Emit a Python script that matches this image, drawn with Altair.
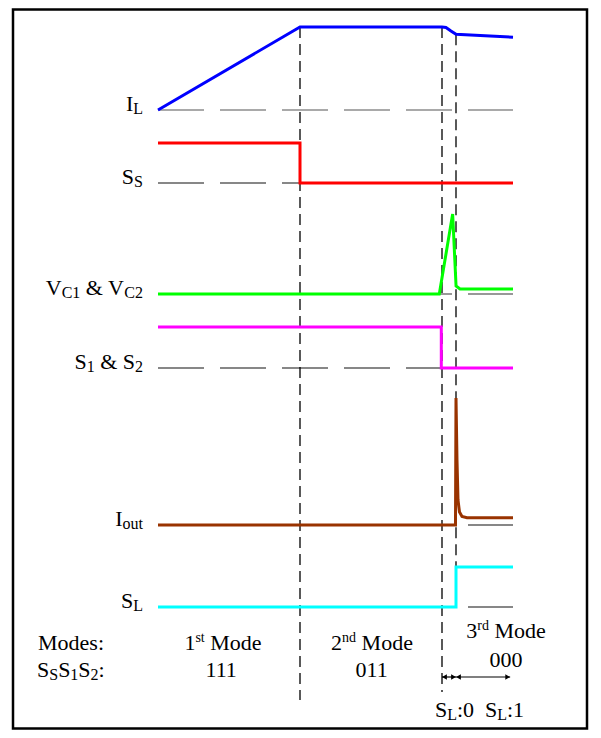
import altair as alt
import pandas as pd

# ---------------- data (time in "mode units": mode 1 = 0..1, mode 2 = 1..2, mode 3 from ~2.1 to 2.5)
series = ["I_L", "S_S", "V_C", "S_12", "I_out", "S_L"]
colors = ["#0000FF", "#FF0000", "#00FF00", "#FF00FF", "#993300", "#00FFFF"]
baseline_colors = ["#555555", "#111111", "#333333", "#111111", "#111111", "#111111"]

il_t = [0, 1, 2, 2.028, 2.063, 2.099, 2.338, 2.5]
il_v = [0, 1, 1, 0.994, 0.952, 0.912, 0.892, 0.876]
ss_t = [0, 1, 1, 2.5]
ss_v = [1, 1, 0, 0]
vc_t = [0, 1.981, 2.075, 2.099, 2.127, 2.5]
vc_v = [0, 0, 1, 0.10, 0.0625, 0.0625]
s12_t = [0, 1.995, 1.995, 2.5]
s12_v = [1, 1, 0, 0]
io_t = [0, 2.095, 2.0986, 2.1056, 2.1127, 2.1232, 2.1408, 2.1761, 2.5]
io_v = [0, 0, 1, 0.512, 0.197, 0.102, 0.067, 0.057, 0.057]
sl_t = [0, 2.0986, 2.0986, 2.5]
sl_v = [0, 0, 1, 1]

mode_edges = [1.0, 2.0, 2.0986]
t_end = 2.5
arrow_end = 2.48

# ---------------- layout
ORIGIN = 8
W_PX, H_PX = 585, 722
X0_PX, UNIT_PX = 158, 142
XDOM = [(ORIGIN - X0_PX) / UNIT_PX, (ORIGIN + W_PX - X0_PX) / UNIT_PX]
YDOM = [ORIGIN, ORIGIN + H_PX]

row_base = {"I_L": 110, "S_S": 183, "V_C": 294, "S_12": 368, "I_out": 525, "S_L": 607}
row_amp = {"I_L": 83, "S_S": 40, "V_C": 80, "S_12": 41, "I_out": 127, "S_L": 40}
vert_bottom = {1.0: 700, 2.0: 692}


def px2t(px):
    return (px - X0_PX) / UNIT_PX


def X(field="t"):
    return alt.X(f"{field}:Q", scale=alt.Scale(domain=XDOM, nice=False, zero=False), axis=None)


def Y(field="y"):
    return alt.Y(f"{field}:Q", scale=alt.Scale(domain=YDOM, reverse=True, nice=False, zero=False), axis=None)


def ypos(name, v):
    return row_base[name] - row_amp[name] * v


# ---------------- signals
sig_src = {"I_L": (il_t, il_v), "S_S": (ss_t, ss_v), "V_C": (vc_t, vc_v),
           "S_12": (s12_t, s12_v), "I_out": (io_t, io_v), "S_L": (sl_t, sl_v)}
rows = []
for name in series:
    ts, vs = sig_src[name]
    for i, (t, v) in enumerate(zip(ts, vs)):
        rows.append({"series": name, "i": i, "t": t, "y": ypos(name, v)})
sig_df = pd.DataFrame(rows)

signals = alt.Chart(sig_df).mark_line(strokeWidth=3, strokeJoin="miter").encode(
    x=X(), y=Y(),
    color=alt.Color("series:N", scale=alt.Scale(domain=series, range=colors), legend=None),
    order=alt.Order("i:Q"),
)

# ---------------- dashed baselines
base_df = pd.DataFrame([{"t": 0, "t2": t_end, "y": row_base[n], "c": c}
                        for n, c in zip(series, baseline_colors)])
baselines = alt.Chart(base_df).mark_rule(strokeDash=[46, 16], strokeWidth=1.2).encode(
    x=X(), x2=alt.X2("t2:Q"), y=Y(), color=alt.Color("c:N", scale=None)
)

# ---------------- vertical dashed mode boundaries
def il_at(t):
    for k in range(len(il_t) - 1):
        if il_t[k] <= t <= il_t[k + 1]:
            a, b = il_t[k], il_t[k + 1]
            f = 0 if b == a else (t - a) / (b - a)
            return il_v[k] + f * (il_v[k + 1] - il_v[k])
    return il_v[-1]

vrows = []
for t in mode_edges:
    top = ypos("I_L", il_at(t))
    bottom = vert_bottom.get(t, ypos("S_L", 1))
    vrows.append({"t": t, "y": top, "y2": bottom})
vert_df = pd.DataFrame(vrows)
verticals = alt.Chart(vert_df).mark_rule(strokeDash=[11, 6], strokeWidth=1.3, color="black").encode(
    x=X(), y=Y(), y2=alt.Y2("y2:Q")
)

# ---------------- frame
frame_df = pd.DataFrame([{"t": px2t(13), "t2": px2t(587), "y": 9.5, "y2": 728.5}])
frame = alt.Chart(frame_df).mark_rect(fillOpacity=0, stroke="black", strokeWidth=2.5).encode(
    x=X(), x2=alt.X2("t2:Q"), y=Y(), y2=alt.Y2("y2:Q")
)

# ---------------- arrows (S_L:0 / S_L:1 intervals)
ARROW_Y = 677
arr_df = pd.DataFrame([
    {"t": mode_edges[1], "t2": mode_edges[2], "y": ARROW_Y},
    {"t": mode_edges[2], "t2": arrow_end, "y": ARROW_Y},
])
arrows = alt.Chart(arr_df).mark_rule(strokeWidth=1.2, color="black").encode(
    x=X(), x2=alt.X2("t2:Q"), y=Y()
)
head_off = 2.5 / UNIT_PX
heads_df = pd.DataFrame([
    {"t": mode_edges[1] + head_off, "y": ARROW_Y, "shape": "triangle-left"},
    {"t": mode_edges[2] - head_off, "y": ARROW_Y, "shape": "triangle-right"},
    {"t": mode_edges[2] + head_off, "y": ARROW_Y, "shape": "triangle-left"},
    {"t": arrow_end - head_off, "y": ARROW_Y, "shape": "triangle-right"},
])
heads = alt.Chart(heads_df).mark_point(filled=True, size=30, color="black", opacity=1).encode(
    x=X(), y=Y(), shape=alt.Shape("shape:N", scale=None)
)

# ---------------- text
CW = {' ': 250, '&': 778, ':': 278, '0': 500, '1': 500, '2': 500, 'C': 667, 'I': 333, 'L': 611,
      'M': 889, 'S': 556, 'V': 722, 'd': 500, 'e': 444, 'n': 500, 'o': 500, 'r': 333, 's': 389,
      't': 278, 'u': 500}
STYLE = {"n": (22, 0), "sub": (16, 3), "sup": (14, -8)}


def tw(s, size):
    return sum(CW.get(c, 500) for c in s) * size / 1000.0


def place(parts, x, base, align="left"):
    total = sum(tw(p, STYLE[k][0]) for p, k in parts)
    if align == "right":
        cur = x - total
    elif align == "center":
        cur = x - total / 2
    else:
        cur = x
    out = []
    for p, k in parts:
        size, dy = STYLE[k]
        lead = len(p) - len(p.lstrip(" "))
        txt = p.strip(" ")
        if txt:
            out.append({"t": px2t(cur + tw(" " * lead, size)), "y": base + dy, "text": txt, "size": size})
        cur += tw(p, size)
    return out


label_parts = {
    "I_L": [("I", "n"), ("L", "sub")],
    "S_S": [("S", "n"), ("S", "sub")],
    "V_C": [("V", "n"), ("C1", "sub"), (" & V", "n"), ("C2", "sub")],
    "S_12": [("S", "n"), ("1", "sub"), (" & S", "n"), ("2", "sub")],
    "I_out": [("I", "n"), ("out", "sub")],
    "S_L": [("S", "n"), ("L", "sub")],
}
LABEL_RIGHT = 143

trows = []
for n in series:
    trows += place(label_parts[n], LABEL_RIGHT, row_base[n] + 1, "right")

trows += place([("Modes:", "n")], 38, 650)
trows += place([("S", "n"), ("S", "sub"), ("S", "n"), ("1", "sub"), ("S", "n"), ("2", "sub"), (":", "n")], 37, 677)
trows += place([("1", "n"), ("st", "sup"), (" Mode", "n")], 223, 650, "center")
trows += place([("111", "n")], 222, 677, "center")
trows += place([("2", "n"), ("nd", "sup"), (" Mode", "n")], 372, 650, "center")
trows += place([("011", "n")], 372, 677, "center")
trows += place([("3", "n"), ("rd", "sup"), (" Mode", "n")], 506, 638, "center")
trows += place([("000", "n")], 506, 667, "center")
trows += place([("S", "n"), ("L", "sub"), (":0", "n")], 435, 717)
trows += place([("S", "n"), ("L", "sub"), (":1", "n")], 485, 717)

text_df = pd.DataFrame(trows)
texts = alt.Chart(text_df).mark_text(align="left", baseline="alphabetic", font="Liberation Serif",
                                     color="black").encode(
    x=X(), y=Y(), text="text:N", size=alt.Size("size:Q", scale=None)
)

chart = alt.layer(frame, baselines, verticals, signals, arrows, heads, texts).properties(
    width=W_PX, height=H_PX, autosize=alt.AutoSizeParams(type="none"), padding=0,
    background="white",
).configure_view(stroke=None)

chart.save("out.html", embed_options={"renderer": "svg", "actions": False})
